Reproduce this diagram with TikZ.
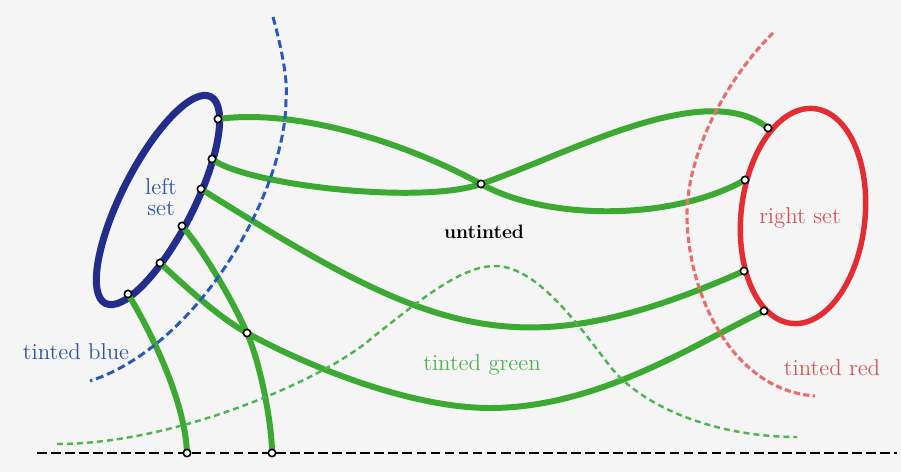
\documentclass[tikz,border=0pt]{standalone}
\usepackage{tikz}
\pgfdeclarelayer{bg}
\pgfsetlayers{bg,main}

\definecolor{paper}{RGB}{245,245,245}
\definecolor{setblue}{RGB}{35,45,140}
\definecolor{txtblue}{RGB}{45,85,160}
\definecolor{dashblue}{RGB}{40,90,185}
\definecolor{linkgreen}{RGB}{60,170,50}
\definecolor{tintgreen}{RGB}{80,180,80}
\definecolor{setred}{RGB}{228,45,50}
\definecolor{dashred}{RGB}{232,110,110}
\definecolor{txtred}{RGB}{215,85,85}

\begin{document}
\begin{tikzpicture}[x=0.02cm, y=-0.02cm, every node/.style={font=\fontsize{13}{12}\selectfont},
    dot/.style={circle, draw=black, fill=white, line width=0.9pt, inner sep=0pt, minimum size=4.2pt},
    link/.style={draw=linkgreen, line width=3.4pt},
    tint/.style={line width=1.6pt, dash pattern=on 4pt off 2.3pt}]
    % end points on the two sets
    \node[dot] (b1) at (218,119) {};
    \node[dot] (b2) at (212,159) {};
    \node[dot] (b3) at (201,189) {};
    \node[dot] (b4) at (182,226) {};
    \node[dot] (b5) at (160,263) {};
    \node[dot] (b6) at (128,294) {};
    \node[dot] (r1) at (768,128) {};
    \node[dot] (r2) at (745,180) {};
    \node[dot] (r3) at (744,271) {};
    \node[dot] (r4) at (764,311) {};
    % inner points
    \node[dot] (x) at (481,184) {};
    \node[dot] (m) at (247,333) {};
    \node[dot] (f1) at (187,453) {};
    \node[dot] (f2) at (272,453) {};

    % labels
    \node[text=txtblue, align=center] (lsetlbl) at (161,197) {left\\set};
    \node[text=txtred] (rsetlbl) at (800,218) {right set};
    \node[font=\fontsize{11}{12}\selectfont\bfseries] (untinted) at (484,232) {untinted};
    \node[text=tintgreen] (tgreen) at (482,365) {tinted green};
    \node[text=txtblue] (tblue) at (76,352) {tinted blue};
    \node[text=txtred] (tred) at (832,368) {tinted red};

    \begin{pgfonlayer}{bg}
    \fill[paper] (0,0) rectangle (901,472);
    % the two sets
    \coordinate (lc) at (158,200);
    \coordinate (rc) at (803,216);
    \draw[setblue, line width=4pt, rotate around={63:(lc)}] (lc) ellipse [x radius=2.32cm, y radius=0.72cm];
    \draw[setred, line width=3.1pt, rotate around={-6:(rc)}] (rc) ellipse [x radius=1.24cm, y radius=2.16cm];

    % paths
    \draw[link] (b1.center) .. controls (300,108) and (410,145) .. (x.center)
        .. controls (545,220) and (670,222) .. (r2.center);
    \draw[link] (b2.center) .. controls (245,185) and (420,205) .. (x.center)
        .. controls (571,153) and (705,78) .. (r1.center);
    \draw[link] (b3.center) .. controls (431,333) and (515,372) .. (r3.center);
    \draw[link] (b5.center) .. controls (185,286) and (217,316) .. (m.center)
        .. controls (307,366) and (410,408) .. (490,408)
        .. controls (600,408) and (700,341) .. (r4.center);
    \draw[link] (b4.center) .. controls (202,248) and (233,301) .. (m.center)
        .. controls (261,365) and (272,425) .. (f2.center);
    \draw[link] (b6.center) .. controls (150,330) and (185,400) .. (f1.center);

    % tinted regions
    \coordinate (tb1) at (273,17);
    \coordinate (tb2) at (90,381);
    \draw[tint, dashblue, line width=1.7pt, dash pattern=on 4.5pt off 2.3pt] (tb1)
        .. controls (282,50) and (288,80) .. (286,100)
        .. controls (286,190) and (200,345) .. (tb2);
    \coordinate (tr1) at (773,33);
    \coordinate (tr2) at (815,396);
    \draw[tint, dashred, line width=1.8pt, dash pattern=on 3.6pt off 1.8pt] (tr1)
        .. controls (730,75) and (687,150) .. (687,215)
        .. controls (687,290) and (730,390) .. (tr2);
    \coordinate (tg1) at (57,444);
    \coordinate (tg2) at (797,437);
    \draw[tint, tintgreen, line width=1.4pt, dash pattern=on 3.4pt off 2.3pt] (tg1)
        .. controls (180,444) and (330,376) .. (373,337)
        .. controls (418,302) and (460,266) .. (495,266)
        .. controls (540,266) and (585,335) .. (613,370)
        .. controls (648,410) and (720,437) .. (tg2);

    % base line
    \coordinate (bl) at (37,453);
    \coordinate (br) at (897,453);
    \draw[black, line width=1.7pt, dash pattern=on 5.5pt off 2.5pt] (bl) -- (br);
    \end{pgfonlayer}
\end{tikzpicture}
\end{document}
